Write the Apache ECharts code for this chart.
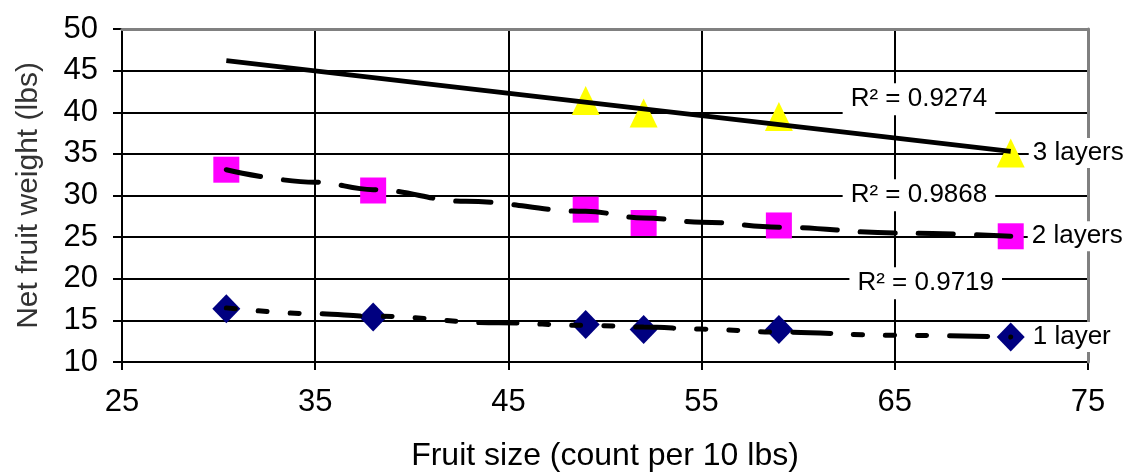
<!DOCTYPE html>
<html>
<head>
<meta charset="utf-8">
<script src="https://cdn.jsdelivr.net/npm/echarts@6/dist/echarts.min.js"></script>
<style>
html,body{margin:0;padding:0;background:#fff;}
#chart{width:1128px;height:472px;}
</style>
</head>
<body>
<div id="chart"></div>
<script>
// ---- data ----
const x1 = [30.4, 38, 49, 52, 59, 71];
const y1 = [16.4, 15.4, 14.5, 13.9, 13.9, 13.0];
const x2 = [30.4, 38, 49, 52, 59, 71];
const y2 = [33.1, 30.6, 28.3, 26.7, 26.4, 25.1];
const x3 = [49, 52, 59, 71];
const y3 = [41.4, 39.9, 39.5, 35.1];

// trendlines
const trend3X = [30.4, 71];
const trend3Y = [46.2, 35.3];
const trend2X = [30.4, 35, 38, 42.8, 49, 52, 55, 59, 65, 71];
const trend2Y = [33.1, 31.6, 30.7, 29.3, 28.1, 27.3, 26.8, 26.2, 25.5, 25.1];
const trend1X = [30.4, 35, 38, 44.5, 49, 52, 55, 59, 65, 71];
const trend1Y = [16.5, 15.8, 15.5, 14.7, 14.4, 14.2, 13.95, 13.6, 13.2, 13.0];

const seriesNames = ['1 layer', '2 layers', '3 layers'];
const r2Values = ['0.9719', '0.9868', '0.9274'];
const r2X = [66.6, 66.25, 66.25];
const r2Y = [19.47, 30.04, 41.56];

const xTicks = [25, 35, 45, 55, 65, 75];
const yTicks = [10, 15, 20, 25, 30, 35, 40, 45, 50];

const FONT = '"Liberation Sans", Arial, sans-serif';

function pts(xs, ys, name) {
  return xs.map((x, i) => {
    if (i === xs.length - 1) {
      return { value: [x, ys[i]], label: { show: true, formatter: name } };
    }
    return [x, ys[i]];
  });
}
function line(xs, ys) { return xs.map((x, i) => [x, ys[i]]); }

const layerLabel = {
  show: false, position: 'right', distance: 4,
  color: '#000', fontFamily: FONT, fontSize: 26,
  backgroundColor: '#fff', padding: [2, 4, 2, 4]
};

const option = {
  animation: false,
  backgroundColor: '#fff',
  grid: { left: 122, right: 40, top: 29, bottom: 110, containLabel: false, outerBoundsMode: 'none' },
  xAxis: [{
    type: 'value', min: 25, max: 75, interval: 10,
    axisLine: { show: true, lineStyle: { color: '#000', width: 2 } },
    axisTick: { show: true, inside: false, length: 8, lineStyle: { color: '#000', width: 2 } },
    axisLabel: { color: '#000', fontSize: 31, fontFamily: FONT, margin: 25,
      formatter: v => xTicks.includes(v) ? String(v) : '' },
    splitLine: { show: true, lineStyle: { color: '#000', width: 2 } },
    name: 'Fruit size (count per 10 lbs)', nameLocation: 'middle', nameGap: 78,
    nameTextStyle: { color: '#000', fontSize: 32, fontFamily: FONT }
  }, {
    type: 'value', min: 25, max: 75, position: 'top', z: 5,
    axisLine: { show: true, onZero: false, lineStyle: { color: '#808080', width: 3 } },
    axisTick: { show: false }, axisLabel: { show: false }, splitLine: { show: false }
  }],
  yAxis: [{
    type: 'value', min: 10, max: 50, interval: 5,
    axisLine: { show: true, lineStyle: { color: '#000', width: 2 } },
    axisTick: { show: true, inside: false, length: 9, lineStyle: { color: '#000', width: 2 } },
    axisLabel: { color: '#000', fontSize: 31, fontFamily: FONT, margin: 24,
      formatter: v => yTicks.includes(v) ? String(v) : '' },
    splitLine: { show: true, lineStyle: { color: '#000', width: 2 } },
    name: 'Net fruit weight (lbs)', nameLocation: 'middle', nameGap: 78,
    nameTextStyle: { color: '#333', fontSize: 30, fontFamily: FONT }
  }, {
    type: 'value', min: 10, max: 50, position: 'right', z: 5,
    axisLine: { show: true, onZero: false, lineStyle: { color: '#808080', width: 3 } },
    axisTick: { show: false }, axisLabel: { show: false }, splitLine: { show: false }
  }],
  series: [
    {
      name: seriesNames[2], type: 'scatter', z: 10,
      symbol: 'triangle', symbolSize: [28, 29],
      itemStyle: { color: '#FFFF00', opacity: 1 },
      label: layerLabel,
      data: pts(x3, y3, seriesNames[2])
    },
    {
      name: seriesNames[1], type: 'scatter', z: 10,
      symbol: 'rect', symbolSize: [26, 26],
      itemStyle: { color: '#FF00FF', opacity: 1 },
      label: layerLabel,
      data: pts(x2, y2, seriesNames[1])
    },
    {
      name: seriesNames[0], type: 'scatter', z: 10,
      symbol: 'diamond', symbolSize: [28, 29],
      itemStyle: { color: '#000080', opacity: 1 },
      label: layerLabel,
      data: pts(x1, y1, seriesNames[0])
    },
    {
      type: 'line', z: 11, showSymbol: false, symbol: 'none',
      lineStyle: { color: '#000', width: 5 },
      data: line(trend3X, trend3Y)
    },
    {
      type: 'line', z: 11, showSymbol: false, symbol: 'none', smooth: 0.4, smoothMonotone: 'x',
      lineStyle: { color: '#000', width: 5, type: [35, 23], cap: 'round' },
      data: line(trend2X, trend2Y)
    },
    {
      type: 'line', z: 11, showSymbol: false, symbol: 'none', smooth: 0.4, smoothMonotone: 'x',
      lineStyle: { color: '#000', width: 5, type: [9, 23, 9, 23, 9, 23, 38, 23], cap: 'round' },
      data: line(trend1X, trend1Y)
    },
    {
      type: 'scatter', z: 12, symbolSize: 0, silent: true,
      itemStyle: { opacity: 1 },
      label: {
        show: true, position: 'inside', color: '#000', fontFamily: FONT, fontSize: 26,
        backgroundColor: '#fff', padding: [3, 8, 3, 8],
        formatter: p => 'R² = ' + r2Values[p.dataIndex]
      },
      data: r2X.map((x, i) => [x, r2Y[i]])
    }
  ]
};

const chart = echarts.init(document.getElementById('chart'), null, { renderer: 'canvas' });
chart.setOption(option);
</script>
</body>
</html>
